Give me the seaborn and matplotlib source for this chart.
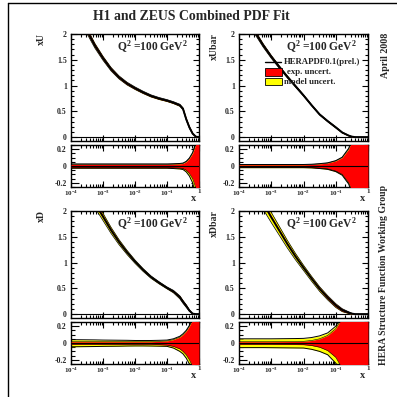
import numpy as np
import matplotlib
matplotlib.use("Agg")
import matplotlib.pyplot as plt
import seaborn as sns
from matplotlib.ticker import FixedLocator, FixedFormatter, MultipleLocator, LogLocator, NullFormatter
from matplotlib.lines import Line2D
from matplotlib.patches import Rectangle

# ---------------- data ----------------
logx = [-4.0, -3.5, -3.25, -3.0, -2.75, -2.5, -2.25, -2.0, -1.75, -1.5,
        -1.25, -1.0, -0.8, -0.6, -0.5, -0.4, -0.3, -0.2, -0.1, 0.0]

xU    = [3.00, 2.06, 1.77, 1.53, 1.32, 1.16, 1.04, 0.95, 0.87, 0.80,
         0.75, 0.71, 0.67, 0.62, 0.55, 0.35, 0.19, 0.07, 0.01, 0.00]
xUbar = [2.55, 2.03, 1.78, 1.56, 1.36, 1.17, 0.99, 0.81, 0.62, 0.44,
         0.31, 0.19, 0.09, 0.03, 0.01, 0.00, 0.00, 0.00, 0.00, 0.00]
xD    = [3.20, 2.42, 2.15, 1.89, 1.63, 1.40, 1.20, 1.02, 0.86, 0.72,
         0.61, 0.51, 0.44, 0.33, 0.24, 0.16, 0.07, 0.01, 0.00, 0.00]
xDbar = [3.10, 2.42, 2.15, 1.88, 1.62, 1.36, 1.12, 0.90, 0.69, 0.49,
         0.32, 0.17, 0.08, 0.03, 0.01, 0.00, 0.00, 0.00, 0.00, 0.00]

# relative uncertainties: exp up/down, total (exp+model) up/down
xU_exp_up  = [0.020, 0.020, 0.020, 0.020, 0.020, 0.020, 0.020, 0.020, 0.020, 0.020,
              0.020, 0.020, 0.022, 0.025, 0.030, 0.050, 0.090, 0.150, 0.260, 0.500]
xU_exp_dn  = xU_exp_up
xU_tot_up  = [0.025, 0.025, 0.025, 0.025, 0.025, 0.025, 0.025, 0.025, 0.025, 0.025,
              0.025, 0.025, 0.027, 0.030, 0.035, 0.055, 0.095, 0.160, 0.280, 0.550]
xU_tot_dn  = [0.027, 0.027, 0.027, 0.027, 0.027, 0.027, 0.027, 0.027, 0.027, 0.027,
              0.027, 0.027, 0.030, 0.035, 0.042, 0.070, 0.120, 0.200, 0.340, 0.650]

xUbar_exp_up = [0.015, 0.015, 0.015, 0.015, 0.015, 0.015, 0.015, 0.015, 0.018, 0.025,
                0.035, 0.060, 0.100, 0.200, 0.300, 0.500, 0.800, 1.000, 1.000, 1.000]
xUbar_exp_dn = xUbar_exp_up
xUbar_tot_up = [0.018, 0.018, 0.018, 0.018, 0.018, 0.018, 0.018, 0.018, 0.021, 0.028,
                0.038, 0.064, 0.105, 0.210, 0.310, 0.520, 0.820, 1.000, 1.000, 1.000]
xUbar_tot_dn = [0.020, 0.020, 0.020, 0.020, 0.020, 0.020, 0.020, 0.020, 0.023, 0.030,
                0.040, 0.067, 0.110, 0.215, 0.320, 0.530, 0.830, 1.000, 1.000, 1.000]

xD_exp_up = [0.015, 0.015, 0.015, 0.015, 0.015, 0.015, 0.015, 0.015, 0.015, 0.015,
             0.020, 0.025, 0.040, 0.070, 0.100, 0.140, 0.200, 0.280, 0.400, 0.600]
xD_exp_dn = xD_exp_up
xD_tot_up = [0.040, 0.038, 0.037, 0.035, 0.034, 0.033, 0.032, 0.030, 0.030, 0.030,
             0.032, 0.035, 0.050, 0.080, 0.110, 0.150, 0.210, 0.300, 0.420, 0.650]
xD_tot_dn = [0.045, 0.043, 0.042, 0.040, 0.039, 0.038, 0.036, 0.035, 0.035, 0.036,
             0.038, 0.040, 0.060, 0.100, 0.130, 0.180, 0.250, 0.350, 0.500, 0.750]

xDbar_exp_up = [0.015, 0.015, 0.015, 0.015, 0.016, 0.017, 0.018, 0.020, 0.030, 0.050,
                0.090, 0.170, 0.300, 0.500, 0.700, 1.000, 1.000, 1.000, 1.000, 1.000]
xDbar_exp_dn = xDbar_exp_up
xDbar_tot_up = [0.050, 0.050, 0.050, 0.050, 0.051, 0.052, 0.053, 0.055, 0.065, 0.085,
                0.120, 0.200, 0.320, 0.520, 0.720, 1.000, 1.000, 1.000, 1.000, 1.000]
xDbar_tot_dn = [0.055, 0.055, 0.055, 0.056, 0.057, 0.058, 0.059, 0.060, 0.075, 0.100,
                0.140, 0.240, 0.400, 0.600, 0.800, 1.000, 1.000, 1.000, 1.000, 1.000]

panel_names = ["xU", "xUbar", "xD", "xDbar"]
x_tick_vals = [1e-4, 1e-3, 1e-2, 1e-1, 1.0]
x_tick_labels = [r"$10^{-4}$", r"$10^{-3}$", r"$10^{-2}$", r"$10^{-1}$", "1"]
main_y_ticks = [0, 0.5, 1, 1.5, 2]
main_y_labels = ["0", "0.5", "1", "1.5", "2"]
ratio_y_ticks = [-0.2, 0, 0.2]
ratio_y_labels = ["-0.2", "0", "0.2"]
title = "H1 and ZEUS Combined PDF Fit"
q2_text = r"Q$^{2}$ =100 GeV$^{2}$"
legend_labels = ["HERAPDF0.1(prel.)", "exp. uncert.", "model uncert."]

# ---------------- style ----------------
sns.set_style("ticks")
plt.rcParams['font.family'] = ['Liberation Serif', 'DejaVu Serif']
plt.rcParams['font.weight'] = 'bold'
plt.rcParams['mathtext.fontset'] = 'custom'
plt.rcParams['mathtext.rm'] = 'Liberation Serif:bold'
plt.rcParams['mathtext.bf'] = 'Liberation Serif:bold'
plt.rcParams['mathtext.it'] = 'Liberation Serif:bold'
plt.rcParams['axes.unicode_minus'] = False

W = H = 397
fig = plt.figure(figsize=(3.97, 3.97), dpi=100)
fig.patch.set_facecolor("white")

def fx(px):
    return px / W

def fy(py):
    return 1 - py / H

def rect(x0, y0, x1, y1):
    return [fx(x0), fy(y1), fx(x1) - fx(x0), fy(y0) - fy(y1)]

RED = "#ff0000"
YEL = "#ffff00"

x = 10 ** np.array(logx)

def style_axis(ax, ratio=False):
    ax.set_xscale("log")
    ax.set_xlim(1e-4, 1.0)
    for s in ax.spines.values():
        s.set_linewidth(1.0)
        s.set_color("black")
    ax.xaxis.set_major_locator(FixedLocator(x_tick_vals))
    ax.xaxis.set_minor_locator(LogLocator(base=10, subs=np.arange(2, 10), numticks=20))
    ax.xaxis.set_minor_formatter(NullFormatter())
    ax.tick_params(which="both", direction="in", top=True, right=True,
                   width=0.8, color="black", labelsize=5.6)
    if ratio:
        ax.set_ylim(-0.25, 0.25)
        ax.yaxis.set_major_locator(FixedLocator(ratio_y_ticks))
        ax.yaxis.set_major_formatter(FixedFormatter(ratio_y_labels))
        ax.yaxis.set_minor_locator(MultipleLocator(0.05))
        ax.xaxis.set_major_formatter(FixedFormatter(x_tick_labels))
        ax.tick_params(axis="y", which="major", length=5.5, pad=3)
        ax.tick_params(axis="y", which="minor", length=2.8)
        ax.tick_params(axis="x", which="major", length=4.5, pad=1.5, labelsize=5)
        ax.tick_params(axis="x", which="minor", length=2.5)
    else:
        ax.set_ylim(-0.075, 2.0)
        ax.yaxis.set_major_locator(FixedLocator(main_y_ticks))
        ax.yaxis.set_major_formatter(FixedFormatter(main_y_labels))
        ax.yaxis.set_minor_locator(MultipleLocator(0.1))
        ax.xaxis.set_major_formatter(NullFormatter())
        ax.tick_params(axis="y", which="major", length=4.5, pad=3)
        ax.tick_params(axis="y", which="minor", length=2.3)
        ax.tick_params(axis="x", which="major", length=4.5)
        ax.tick_params(axis="x", which="minor", length=2.3)
    for lab in ax.get_xticklabels() + ax.get_yticklabels():
        lab.set_fontweight("bold")
    ax.set_xlabel("")
    ax.set_ylabel("")

def draw_main(ax, y, eu, ed, tu, td):
    y = np.array(y)
    eu, ed, tu, td = map(np.array, (eu, ed, tu, td))
    ax.fill_between(x, y * (1 - td), y * (1 + tu), color=YEL, lw=0, zorder=2)
    ax.fill_between(x, y * (1 - ed), y * (1 + eu), color=RED, lw=0, zorder=3)
    ax.plot(x, y * (1 + tu), color="black", lw=0.5, zorder=4)
    ax.plot(x, y * (1 - td), color="black", lw=0.5, zorder=4)
    sns.lineplot(x=x, y=y, ax=ax, color="black", lw=1.4, zorder=5)
    ax.axhline(0, color="black", lw=0.8, zorder=1)
    style_axis(ax, ratio=False)

def draw_ratio(ax, eu, ed, tu, td):
    eu, ed, tu, td = map(np.array, (eu, ed, tu, td))
    ax.fill_between(x, -td, tu, color=YEL, lw=0, zorder=2)
    ax.fill_between(x, -ed, eu, color=RED, lw=0, zorder=3)
    for arr in (tu, -td):
        ax.plot(x, arr, color="black", lw=0.7, zorder=4)
    for arr in (eu, -ed):
        ax.plot(x, arr, color="black", lw=0.4, zorder=4)
    sns.lineplot(x=x, y=np.zeros_like(x), ax=ax, color="black", lw=0.8, zorder=5)
    style_axis(ax, ratio=True)

# panel geometry (pixels)
cols = [(71, 199), (239, 368)]
rows = [((34, 141), (145, 187)), ((211, 318), (322, 364))]
ylab_x = [41, 214]

data = [
    (xU, xU_exp_up, xU_exp_dn, xU_tot_up, xU_tot_dn),
    (xUbar, xUbar_exp_up, xUbar_exp_dn, xUbar_tot_up, xUbar_tot_dn),
    (xD, xD_exp_up, xD_exp_dn, xD_tot_up, xD_tot_dn),
    (xDbar, xDbar_exp_up, xDbar_exp_dn, xDbar_tot_up, xDbar_tot_dn),
]

for i in range(4):
    r, c = divmod(i, 2)
    (mx0, mx1) = cols[c]
    (my0, my1), (ry0, ry1) = rows[r]
    axm = fig.add_axes(rect(mx0, my0, mx1, my1))
    axr = fig.add_axes(rect(mx0, ry0, mx1, ry1))
    y, eu, ed, tu, td = data[i]
    draw_main(axm, y, eu, ed, tu, td)
    draw_ratio(axr, eu, ed, tu, td)
    fig.text(fx(ylab_x[c]), fy(my0 - 1), panel_names[i], rotation=90,
             ha="center", va="top", fontsize=7, fontweight="bold")
    fig.text(fx(mx1 - 11), fy(my0 + 13), q2_text, ha="right", va="center",
             fontsize=8.3, fontweight="bold")
    fig.text(fx(mx1 - 5), fy(ry1 + 11), "x", ha="center", va="center",
             fontsize=7.5, fontweight="bold")

# legend (top-right main panel)
fig.add_artist(Line2D([fx(265), fx(281)], [fy(62), fy(62)], color="black", lw=1.0))
fig.text(fx(284), fy(62), legend_labels[0], ha="left", va="center", fontsize=6.3, fontweight="bold")
fig.add_artist(Rectangle((fx(265), fy(76)), fx(282) - fx(265), fy(68) - fy(76),
                         facecolor=RED, edgecolor="black", lw=0.6, transform=fig.transFigure))
fig.text(fx(287), fy(72), legend_labels[1], ha="left", va="center", fontsize=6.3, fontweight="bold")
fig.add_artist(Rectangle((fx(265), fy(85)), fx(282) - fx(265), fy(78) - fy(85),
                         facecolor=YEL, edgecolor="black", lw=0.6, transform=fig.transFigure))
fig.text(fx(284), fy(82), legend_labels[2], ha="left", va="center", fontsize=6.3, fontweight="bold")

# title and side notes
fig.text(fx(191), fy(16), title, ha="center", va="center", fontsize=9.9, fontweight="bold")
fig.text(fx(386), fy(55), "April 2008", rotation=90, ha="center", va="center",
         fontsize=7.2, fontweight="bold")
fig.text(fx(384), fy(275), "HERA Structure Function Working Group", rotation=90,
         ha="center", va="center", fontsize=7, fontweight="bold")

# outer frame (left and top edges visible)
fig.add_artist(Line2D([fx(8), fx(8)], [fy(3), 0], color="black", lw=1.0))
fig.add_artist(Line2D([fx(8), 1], [fy(3), fy(3)], color="black", lw=1.0))

fig.savefig("out.png", dpi=100)
